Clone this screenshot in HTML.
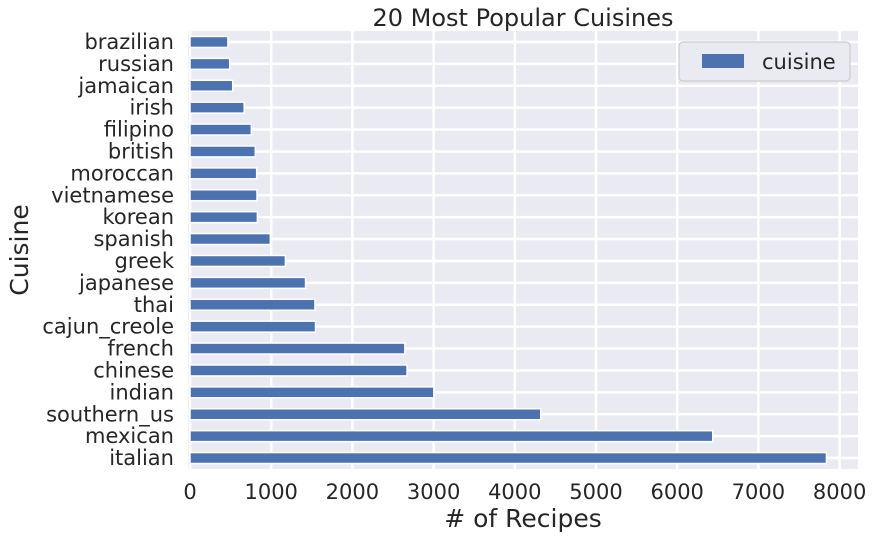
<!DOCTYPE html>
<html><head><meta charset="utf-8"><style>
body{margin:0;background:#fff;font-family:"DejaVu Sans","Liberation Sans",sans-serif;}
svg text{fill:#262626;}
</style></head><body>
<svg width="878" height="537" id="c" xmlns="http://www.w3.org/2000/svg"></svg>
<script>
const categories=["italian","mexican","southern_us","indian","chinese","french","cajun_creole","thai","japanese","greek","spanish","korean","vietnamese","moroccan","british","filipino","irish","jamaican","russian","brazilian"];
const values=[7838,6438,4320,3003,2673,2646,1546,1539,1423,1175,989,830,825,821,804,755,667,526,489,467];
const xTicks=[0,1000,2000,3000,4000,5000,6000,7000,8000];
const NS="http://www.w3.org/2000/svg";
const svg=document.getElementById('c');
const L=188,R=858,T=31,B=469,x0=190,scale=0.0812;
function X(v){return x0+v*scale;}
const step=(B-T)/categories.length;
function Y(i){return B-step*(i+0.5);}
function el(t,a,p){const e=document.createElementNS(NS,t);for(const k in a)e.setAttribute(k,a[k]);(p||svg).appendChild(e);return e;}
const bg=el('rect',{x:L,y:T,width:R-L,height:B-T,fill:'#EAEAF2'});


xTicks.forEach(v=>{
 const g=el('line',{x1:X(v),x2:X(v),y1:T,y2:B,stroke:'#fff','stroke-width':2.5});
 
 
 const t=el('text',{x:X(v),y:499,'text-anchor':'middle','font-size':21});
 t.textContent=v;
 
 
});
categories.forEach((c,i)=>{
 const g=el('line',{x1:L,x2:R,y1:Y(i),y2:Y(i),stroke:'#fff','stroke-width':2.5});
 
 
});
categories.forEach((c,i)=>{
 const h=step*0.5;
 const b=el('rect',{x:x0,y:Y(i)-h/2,width:X(values[i])-x0,height:h,fill:'#4C72B0',stroke:'#fff','stroke-width':1.5});
 
 
 const t=el('text',{x:L-14,y:Y(i)+7,'text-anchor':'end','font-size':21});
 t.textContent=c;
 
 
});
const title=el('text',{x:(L+R)/2,y:26,'text-anchor':'middle','font-size':24});
title.textContent='20 Most Popular Cuisines';


const xl=el('text',{x:(L+R)/2,y:527,'text-anchor':'middle','font-size':25});
xl.textContent='# of Recipes';


const yl=el('text',{x:0,y:0,'text-anchor':'middle','font-size':25,transform:'translate(28,250) rotate(-90)'});
yl.textContent='Cuisine';


const lg=el('g',{});


el('rect',{x:679,y:42,width:171,height:39,rx:4,fill:'#EAEAF2',stroke:'#cccccc','stroke-width':1.2},lg);
el('rect',{x:702,y:54,width:42,height:14,fill:'#4C72B0'},lg);
const lt=el('text',{x:762,y:69,'font-size':21},lg);
lt.textContent='cuisine';


</script>
</body></html>
